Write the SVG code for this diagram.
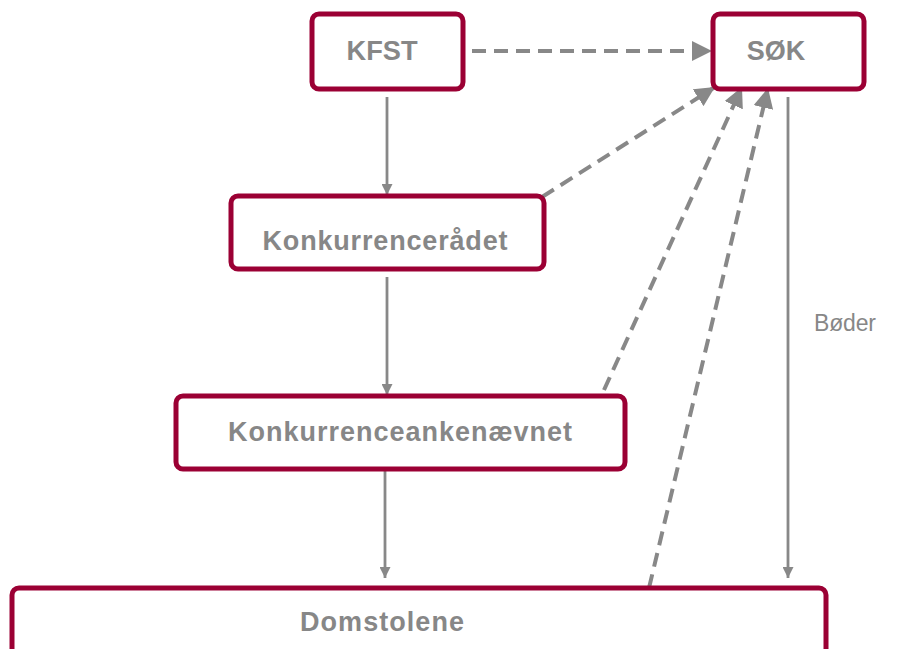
<svg xmlns="http://www.w3.org/2000/svg" width="899" height="649" viewBox="0 0 899 649">
<style>
.box{fill:#fff;stroke:#9B0034;stroke-width:5}
.lbl{font-family:"Liberation Sans",Arial,sans-serif;font-weight:bold;font-size:27px;fill:#878787;text-anchor:middle}
.sol{stroke:#888;stroke-width:2.8;fill:none}
.dash{stroke:#888;stroke-width:4;fill:none;stroke-dasharray:14 8}
</style>
<defs>
<marker id="ah" viewBox="0 0 10 10" refX="10" refY="5" markerWidth="11" markerHeight="11" markerUnits="userSpaceOnUse" orient="auto">
<path d="M0,0 L10,5 L0,10 Z" fill="#888"/>
</marker>
<marker id="ahd" viewBox="0 0 10 10" refX="10" refY="5" markerWidth="5" markerHeight="5" orient="auto">
<path d="M0,0 L10,5 L0,10 Z" fill="#888"/>
</marker>
</defs>
<g id="connectors">
<line class="sol" x1="387" y1="97" x2="387" y2="195" marker-end="url(#ah)"/>
<line class="sol" x1="387" y1="277" x2="387" y2="395" marker-end="url(#ah)"/>
<line class="sol" x1="385" y1="470" x2="385" y2="578" marker-end="url(#ah)"/>
<line class="sol" x1="788" y1="97" x2="788" y2="578" marker-end="url(#ah)"/>
<line class="dash" x1="472" y1="51" x2="712" y2="51" marker-end="url(#ahd)"/>
<line class="dash" x1="542" y1="197" x2="715" y2="87" marker-end="url(#ahd)"/>
<line class="dash" x1="604" y1="390" x2="742" y2="87" marker-end="url(#ahd)"/>
<line class="dash" x1="649" y1="588" x2="768" y2="88" marker-end="url(#ahd)"/>
<text x="814" y="331" font-family="Liberation Sans,Arial,sans-serif" font-size="23" fill="#878787" textLength="62" lengthAdjust="spacing">Bøder</text>
</g>
<g id="kfst">
<rect class="box" x="312" y="14" width="151" height="75" rx="7"/>
<text class="lbl" x="382" y="60" textLength="71" lengthAdjust="spacingAndGlyphs">KFST</text>
</g>
<g id="sok">
<rect class="box" x="713" y="14" width="151" height="75" rx="7"/>
<text class="lbl" x="776" y="60">SØK</text>
</g>
<g id="konkurrenceraadet">
<rect class="box" x="231" y="196" width="313" height="73" rx="7"/>
<text class="lbl" x="385" y="250" textLength="245" lengthAdjust="spacing">Konkurrencerådet</text>
</g>
<g id="konkurrenceankenaevnet">
<rect class="box" x="176" y="396" width="449" height="73" rx="7"/>
<text class="lbl" x="400" y="441" textLength="344" lengthAdjust="spacing">Konkurrenceankenævnet</text>
</g>
<g id="domstolene">
<rect class="box" x="12" y="588" width="814" height="80" rx="7"/>
<text class="lbl" x="382" y="631" textLength="164" lengthAdjust="spacing">Domstolene</text>
</g>
</svg>
